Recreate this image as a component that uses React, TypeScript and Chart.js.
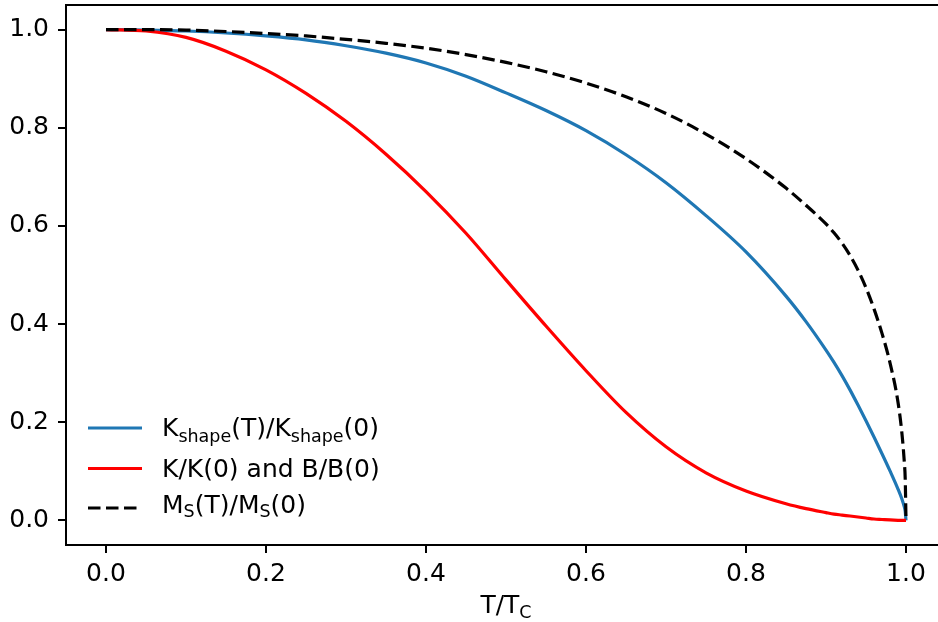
import React, { useEffect, useRef } from "react";
import { Chart, registerables } from "chart.js";

Chart.register(...registerables);

// ---- data ----
const T = [0, 0.05, 0.1, 0.15, 0.2, 0.25, 0.3, 0.35, 0.4, 0.45, 0.5, 0.55, 0.6, 0.65, 0.7, 0.75, 0.8, 0.85, 0.875, 0.9, 0.91, 0.92, 0.93, 0.94, 0.95, 0.96, 0.97, 0.98, 0.99, 0.995, 0.998, 0.999, 1.0];
const K_SHAPE = [1.0, 0.999, 0.997, 0.993, 0.987, 0.979, 0.967, 0.952, 0.932, 0.905, 0.871, 0.835, 0.794, 0.745, 0.688, 0.621, 0.547, 0.457, 0.405, 0.347, 0.322, 0.295, 0.266, 0.235, 0.203, 0.17, 0.136, 0.101, 0.064, 0.043, 0.027, 0.019, 0.0];
const K_RATIO = [1.0, 0.997, 0.984, 0.956, 0.918, 0.87, 0.813, 0.746, 0.67, 0.585, 0.49, 0.396, 0.305, 0.22, 0.15, 0.097, 0.06, 0.034, 0.024, 0.016, 0.013, 0.011, 0.009, 0.007, 0.005, 0.003, 0.002, 0.001, 0.0003, 0.0001, 0.0, 0.0, 0.0];
const MS_RATIO = [1.0, 1.0, 0.999, 0.996, 0.992, 0.987, 0.98, 0.972, 0.962, 0.949, 0.933, 0.914, 0.891, 0.863, 0.829, 0.787, 0.737, 0.677, 0.642, 0.604, 0.586, 0.565, 0.54, 0.51, 0.474, 0.431, 0.381, 0.321, 0.241, 0.176, 0.116, 0.086, 0.0];

const X_TICKS = [0.0, 0.2, 0.4, 0.6, 0.8, 1.0];
const Y_TICKS = [0.0, 0.2, 0.4, 0.6, 0.8, 1.0];
const X_LIMITS = [-0.05, 1.04];
const X_FULL_MAX = 1.05;
const Y_LIMITS = [-0.05, 1.05];

type Seg = { t: string; sub?: boolean };
const LEGEND_LABELS: Seg[][] = [
  [{ t: "K" }, { t: "shape", sub: true }, { t: "(T)/K" }, { t: "shape", sub: true }, { t: "(0)" }],
  [{ t: "K/K(0) and B/B(0)" }],
  [{ t: "M" }, { t: "S", sub: true }, { t: "(T)/M" }, { t: "S", sub: true }, { t: "(0)" }],
];
const X_TITLE: Seg[] = [{ t: "T/T" }, { t: "C", sub: true }];

const COLORS = ["#1f77b4", "#ff0000", "#000000"];
const DASHES: number[][] = [[], [], [12.5, 5.5]];

const FONT = '"DejaVu Sans", sans-serif';
const FS = 25;
const SUB_FS = 17.5;

function segFont(s: Seg) {
  return `${s.sub ? SUB_FS : FS}px ${FONT}`;
}

function richWidth(ctx: CanvasRenderingContext2D, segs: Seg[]) {
  let w = 0;
  for (const s of segs) {
    ctx.font = segFont(s);
    w += ctx.measureText(s.t).width;
  }
  return w;
}

function drawRich(ctx: CanvasRenderingContext2D, segs: Seg[], x: number, y: number, subShift: number) {
  let cx = x;
  ctx.textAlign = "left";
  ctx.textBaseline = "alphabetic";
  for (const s of segs) {
    ctx.font = segFont(s);
    ctx.fillText(s.t, cx, s.sub ? y + subShift : y);
    cx += ctx.measureText(s.t).width;
  }
}

const overlayPlugin = {
  id: "overlay",
  afterDraw(chart: any) {
    const ctx: CanvasRenderingContext2D = chart.ctx;
    const a = chart.chartArea;
    ctx.save();
    // spines
    ctx.strokeStyle = "#000";
    ctx.lineWidth = 2;
    ctx.setLineDash([]);
    ctx.beginPath();
    ctx.moveTo(a.right + 10, a.top);
    ctx.lineTo(a.left, a.top);
    ctx.lineTo(a.left, a.bottom);
    ctx.lineTo(a.right + 10, a.bottom);
    ctx.stroke();

    // legend
    const baselines = [a.bottom - 109, a.bottom - 68, a.bottom - 32];
    const lineYs = [a.bottom - 117, a.bottom - 76.5, a.bottom - 37];
    const shifts = [6, 0, 4];
    for (let i = 0; i < LEGEND_LABELS.length; i++) {
      ctx.strokeStyle = COLORS[i];
      ctx.lineWidth = 3.2;
      ctx.setLineDash(DASHES[i]);
      ctx.lineCap = "butt";
      ctx.beginPath();
      ctx.moveTo(a.left + 22, lineYs[i]);
      ctx.lineTo(a.left + 76, lineYs[i]);
      ctx.stroke();
      ctx.setLineDash([]);
      ctx.fillStyle = "#000";
      drawRich(ctx, LEGEND_LABELS[i], a.left + 96, baselines[i], shifts[i]);
    }

    // x axis title, centred on the full (uncropped) axes width
    const cx = (a.left + chart.scales.x.getPixelForValue(X_FULL_MAX)) / 2;
    const w = richWidth(ctx, X_TITLE);
    ctx.fillStyle = "#000";
    drawRich(ctx, X_TITLE, cx - w / 2, 612.5, 5);
    ctx.restore();
  },
};

export default function App() {
  const ref = useRef<HTMLCanvasElement | null>(null);

  useEffect(() => {
    if (!ref.current) return;
    const mk = (ys: number[]) => T.map((x, i) => ({ x, y: ys[i] }));
    const series = [K_SHAPE, K_RATIO, MS_RATIO];
    const tickStyle = {
      color: "#000",
      font: { family: FONT, size: FS },
      callback: (v: any) => Number(v).toFixed(1),
    };
    const gridStyle = {
      display: true,
      drawOnChartArea: false,
      drawTicks: true,
      tickLength: 8,
      color: "#000",
      lineWidth: 2,
    };
    const chart = new Chart(ref.current, {
      type: "line",
      data: {
        datasets: series.map((ys, i) => ({
          data: mk(ys),
          borderColor: COLORS[i],
          borderWidth: 3.2,
          borderDash: DASHES[i],
          pointRadius: 0,
          fill: false,
          cubicInterpolationMode: "monotone" as const,
          order: 3 - i,
        })),
      },
      options: {
        animation: false,
        responsive: true,
        maintainAspectRatio: false,
        layout: { padding: { top: 5, right: 0, left: 0, bottom: 0 } },
        plugins: { legend: { display: false }, tooltip: { enabled: false } },
        scales: {
          x: {
            type: "linear",
            min: X_LIMITS[0],
            max: X_LIMITS[1],
            grid: gridStyle,
            border: { display: false },
            ticks: { ...tickStyle, padding: 6, maxRotation: 0, autoSkip: false },
            afterBuildTicks: (s: any) => {
              s.ticks = X_TICKS.map((v) => ({ value: v }));
            },
            afterFit: (s: any) => {
              s.height = 77;
              s.paddingLeft = 0;
              s.paddingRight = 0;
            },
          },
          y: {
            type: "linear",
            min: Y_LIMITS[0],
            max: Y_LIMITS[1],
            grid: gridStyle,
            border: { display: false },
            ticks: { ...tickStyle, padding: 9, autoSkip: false },
            afterBuildTicks: (s: any) => {
              s.ticks = Y_TICKS.map((v) => ({ value: v }));
            },
            afterFit: (s: any) => {
              s.width = 66;
              s.paddingTop = 0;
              s.paddingBottom = 0;
            },
          },
        },
      },
      plugins: [overlayPlugin],
    });
    return () => chart.destroy();
  }, []);

  return (
    <div style={{ position: "fixed", left: 0, top: 0, width: 938, height: 622, background: "#fff" }}>
      <canvas ref={ref} />
    </div>
  );
}
